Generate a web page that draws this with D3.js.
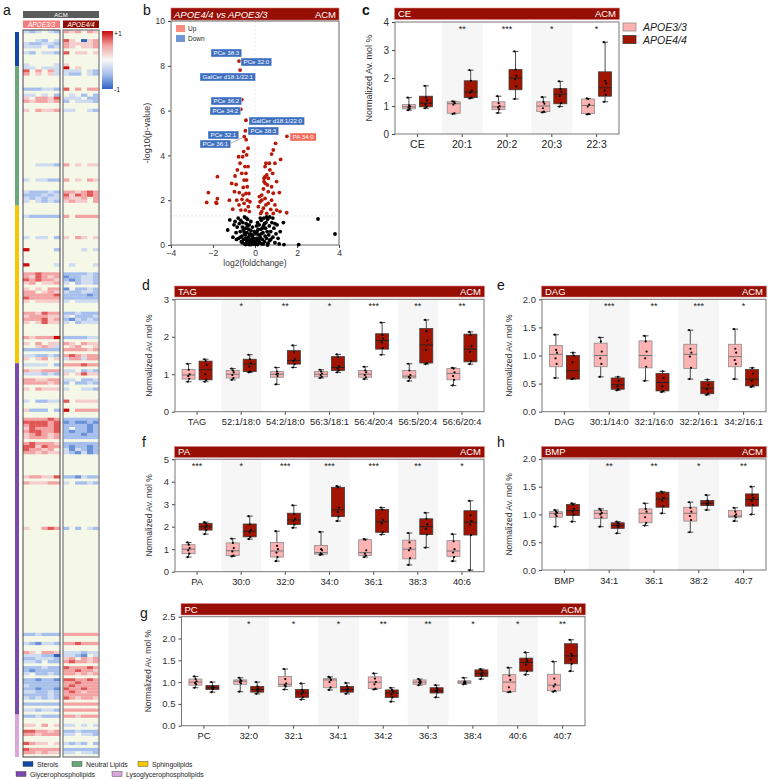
<!DOCTYPE html>
<html><head><meta charset="utf-8">
<script src="https://cdn.jsdelivr.net/npm/d3@7"></script>
<style>body{margin:0;background:#fff}svg{display:block;font-family:"Liberation Sans",Arial,sans-serif}</style>
</head><body>
<svg id="chart" width="768" height="779"></svg>
<script>
// ---------------- DATA ----------------
// Heatmap (panel a)
const hmGroups = ["Sterols","Neutral Lipids","Sphingolipids","Glycerophospholipids","Lysoglycerophospholipids"];
const hmGroupSizes = [12,46,52,116,14];
const hmNRows = 240;
// row index, APOE3/3 six samples, APOE4/4 six samples (a-d = -0.25..-1, A-D = +0.25..+1, . = 0)
const hmRows = [
[0,"aba.ab","BAB.BA"],[3,"..ab.a","CA.dAB"],[4,"abbaab","BAAAAB"],[5,"aaa.ba","BA.AAB"],[7,"ab.aab","C.AA.A"],
[11,"a....a","A....."],[12,"aa.aaa","D.A..."],[13,"C.B.Ba","aaa.ab"],[14,"B.A.Aa","abb.ab"],[19,"bbbaab","C.B.BB"],
[21,"aa.a.b",".a.b.b"],[22,"A.BBAC","aaa.bb"],[23,"BABBAB","b.aaab"],[26,"A.BAAB","aa..ab"],[44,"..aaab","B.A.AA"],
[49,"a.aabb","B.A.BA"],[53,"abbbab","BBABCB"],[54,"bbbaba","CACBCB"],[55,"ababaa","BAAB.B"],[56,"a.abab","ABAA.B"],
[61,"abbbbb","B.BBBB"],[68,"a.aa.b","A.BA.A"],[72,"D....b","...a.a"],[77,"D....a",".a...a"],[80,"BBCBBB","bbbbab"],
[81,"BACBAB","cbbaab"],[82,"CBCBBA","bcbaab"],[83,"AB.AAB","a.baab"],[85,"A.A.BB","c.bbab"],[86,"BB.ABA","abbaab"],
[87,"BBBBBC","bbbbcb"],[88,"CBBBBB","bbbbbb"],[89,"A.AAAA","a.aaaa"],[93,"BBACBB","bbabbb"],[94,"ABBBAA","a.bbba"],
[95,"BBBCAB","bcabab"],[96,"A.ACAA","a.baaa"],[101,"BABBBD","bbbbaa"],[103,"A.B.AA","BA.BAA"],[104,"..ABAa",".AB..A"],
[105,"bbbbbb","BBBBAB"],[107,"aabbab","BCBABB"],[108,"A.AB.A","aBBaBB"],[110,"aaaa.b","BBBCBB"],[112,"BAABBB","aa.bab"],
[113,"aaabab","A.ACAA"],[115,"BBAABB","aa.bba"],[116,"BBBBAB","b.bbab"],[118,"A.BAAA","a..aab"],[122,"a.bbaa","C.AAAA"],
[125,"Abbb.b","D.BBBB"],[128,"BBBBCB","bbbbbb"],[129,"CCCCBC","cbccbc"],[130,"BCCCBC","bbbbcb"],[131,"ACBBBC","b.bbcb"],
[132,"BCCBBC","bcbbcb"],[133,"ABCBAB","bbbcbb"],[134,"ABBBAB","bbbbbb"],[136,"BCBBBA","bbbbbb"],[137,"CCACBB","bcbbcb"],
[138,"CBBAB.","acabcb"],[139,"BBABAA","abcacb"],[147,"ABBAAC","bbcabb"],[149,"BAAABB","a.bbab"],[164,"A..BCB","b.b.ab"],
[199,"bbabbb","BBBBBB"],[202,"abcaab","BBCBBB"],[205,"BA.BBA","aaabaa"],[206,"aaabbd","aabc.a"],[207,"bbaaab","AB.BAB"],
[208,"aab.bb","BCBBAB"],[210,"bbbabb","CBBBCB"],[211,"bcbbbb","BBCBBA"],[212,"a.bbab","BBABAB"],[214,"bbcbbc","CCBBCB"],
[215,"bbbbbb","BBCBBB"],[216,"abbbbb","BCBBBB"],[217,"bbcbbc","CBBCBB"],[218,"aabbab","BCBABB"],[219,"bbbbab","BBBBBB"],
[220,"ababab","CBABBA"],[222,"bbbbbb","BBBBBB"],[224,"aabaab","BBBBBB"],[226,"bbabbb","BBABBB"],[229,"AA.B.A","aa.a.a"],
[231,"CCBBAB","bbabbb"],[232,"BBABBB","aa.aab"],[235,"CBAA.A","abab.b"],[237,"CBBBBB","bbbbbb"],[238,"BBABAA","aa.aab"]
];

// Volcano (panel b): [log2 fold change, -log10 p]
const volcSig = [
[-2.3,1.9],[-2.22,2.34],[-1.85,1.9],[-1.79,2.07],[-1.79,3.05],[-1.83,1.86],[-1.22,2.0],[-1.06,1.6],[-0.95,3.08],[-0.9,2.7],
[-0.84,3.35],[-0.71,3.65],[-0.75,2.34],[-0.76,1.79],[-0.67,1.56],[-0.62,2.04],[-0.56,2.57],[-0.52,2.9],[-0.48,3.5],[-0.43,3.2],
[-0.4,2.9],[-0.37,2.6],[-0.43,2.3],[-0.37,2.0],[-0.32,1.71],[-0.27,1.49],[-0.46,1.56],[-0.52,1.86],[-0.57,2.23],[-0.59,3.94],
[-0.4,4.02],[-0.33,4.32],[-0.78,3.94],[-0.98,2.38],[-0.87,2.0],[-1.11,2.75],[-0.63,3.2],[-0.54,4.17],[-0.33,3.5],[-0.29,2.3],
[-0.24,1.93],[-0.76,8.21],[-0.71,7.81],[-0.63,6.49],[-0.68,6.06],[-0.43,5.57],[-0.46,5.1],[-0.51,4.84],[-0.42,4.7],
[0.98,4.54],[0.87,4.24],[0.79,4.06],[1.22,3.82],[0.52,3.65],[0.48,3.5],[0.95,3.65],[0.71,3.35],[0.56,3.13],[0.43,2.98],
[0.63,2.98],[0.49,2.75],[0.79,2.6],[0.4,2.5],[0.63,2.38],[0.32,2.23],[0.87,2.31],[1.16,2.34],[0.48,2.08],[0.79,2.0],
[0.24,1.93],[0.63,1.86],[0.95,1.79],[0.4,1.64],[0.75,1.59],[0.32,1.49],[0.56,1.41],[1.03,1.56],[1.19,1.49],[1.51,1.44],
[0.16,1.71],[0.27,1.41],[0.48,3.05],[0.68,3.65],[0.84,3.2],[0.43,2.83],[0.59,2.68],[1.03,2.83],[0.32,2.0],[0.87,1.41],
[0.52,1.79],[0.21,2.16],[1.52,4.85]
];
const volcNs = [
[-1.2,1.12],[-1.3,0.67],[-1.0,0.9],[-0.95,1.05],[-0.9,0.55],[-0.85,0.8],[-0.8,1.2],[-0.78,0.3],[-0.75,0.95],[-0.7,0.6],
[-0.68,1.1],[-0.65,0.15],[-0.62,0.4],[-0.6,0.8],[-0.58,1.0],[-0.55,0.25],[-0.52,0.6],[-0.5,1.25],[-0.48,0.05],[-0.46,0.45],
[-0.44,0.75],[-0.42,0.95],[-0.4,0.2],[-0.38,0.55],[-0.36,1.15],[-0.34,0.1],[-0.32,0.35],[-0.3,0.7],[-0.28,0.9],[-0.26,0.05],
[-0.24,0.25],[-0.22,0.5],[-0.2,1.05],[-0.18,0.02],[-0.16,0.15],[-0.14,0.4],[-0.12,0.8],[-0.1,0.08],[-0.08,0.3],[-0.06,0.12],
[-0.04,0.6],[-0.02,0.03],[-0.5,0.5],[-0.45,0.3],[-0.55,0.7],[-0.35,0.85],[-0.25,0.45],[-0.15,0.22],[-0.42,1.2],[-0.6,0.1],
[-0.7,0.35],[-0.3,0.15],[-0.2,0.65],[-0.1,0.45],[-0.05,0.2],[-0.88,0.25],[-1.05,0.35],[-0.45,0.02],[-0.35,0.05],[-0.28,0.02],
[0.02,0.05],[0.05,0.15],[0.08,0.3],[0.1,0.6],[0.12,0.02],[0.15,0.2],[0.18,0.45],[0.2,0.9],[0.22,0.1],[0.25,0.35],
[0.28,0.7],[0.3,1.1],[0.32,0.05],[0.35,0.25],[0.38,0.55],[0.4,0.85],[0.42,1.2],[0.45,0.15],[0.48,0.4],[0.5,0.75],
[0.52,1.0],[0.55,0.3],[0.58,0.6],[0.6,1.15],[0.62,0.08],[0.65,0.45],[0.68,0.85],[0.7,0.2],[0.75,0.6],[0.8,1.0],
[0.85,0.35],[0.9,0.75],[0.95,0.1],[1.0,0.5],[1.05,0.9],[1.1,0.3],[1.2,0.6],[1.35,1.0],[0.55,1.25],[0.3,0.5],
[0.15,0.7],[0.7,1.25],[0.45,0.95],[0.25,1.2],[0.6,0.0],[0.35,0.75],[0.85,1.2],[1.38,0.02],[2.08,0.02],[3.0,1.16],
[3.81,0.49],[0.12,1.0],[0.2,0.25],[0.4,0.05],[0.75,0.25],[0.95,0.95],[1.15,0.05],[0.05,0.5],[0.08,0.85]
];
const volcLabels = ["PCe 38:3","PCe 32:0","GalCer d18:1/22:1","PCe 36:2","PCe 34:2","GalCer d18:1/22:0","PCe 38:3","PCe 32:1","PCe 36:1","PA 34:0"];
const volcLabelDir = ["Down","Down","Down","Down","Down","Down","Down","Down","Down","Up"];
const volcXTicks = [-4,-2,0,2,4];
const volcYTicks = [0,2,4,6,8,10];
const pThreshold = 1.3;

// Panel c: CE
const cCats = ["CE","20:1","20:2","20:3","22:3"];
const cSig = ["","**","***","*","*"];
const cTicks = [0,1,2,3,4];
const cE33 = [[0.85,0.9,0.97,1.05,1.3],[0.72,0.74,1.08,1.15,1.17],[0.75,0.87,0.97,1.15,1.35],[0.77,0.8,1.0,1.15,1.32],[0.7,0.73,1.02,1.25,1.27]];
const cE44 = [[0.92,0.97,1.1,1.35,1.72],[1.27,1.3,1.5,1.9,2.28],[1.25,1.58,2.0,2.3,2.95],[0.98,1.08,1.42,1.62,1.88],[1.15,1.35,1.65,2.22,3.28]];
const cE33pts = [[0.85,0.9,0.95,0.98,1.02,1.3],[0.72,0.74,1.05,1.1,1.15,1.17],[0.75,0.88,0.95,1.0,1.1,1.35],[0.77,0.8,0.92,1.08,1.15,1.32],[0.7,0.72,0.98,1.05,1.25,1.27]];
const cE44pts = [[0.92,0.97,1.05,1.2,1.3,1.72],[1.27,1.3,1.48,1.55,1.9,2.28],[1.25,1.7,1.95,2.08,2.3,2.95],[0.98,1.1,1.35,1.5,1.6,1.88],[1.15,1.4,1.55,1.8,1.9,3.28]];

// Panel d: TAG
const dCats = ["TAG","52:1/18:0","54:2/18:0","56:3/18:1","56:4/20:4","56:5/20:4","56:6/20:4"];
const dSig = ["","*","**","*","***","**","**"];
const dTicks = [0,1,2,3];
const dE33 = [[0.8,0.87,0.98,1.13,1.28],[0.85,0.9,1.0,1.1,1.15],[0.73,0.92,1.0,1.07,1.18],[0.9,0.93,1.0,1.07,1.12],[0.87,0.92,1.0,1.1,1.2],[0.82,0.9,0.95,1.1,1.28],[0.7,0.85,1.02,1.15,1.17]];
const dE44 = [[0.8,0.85,1.12,1.35,1.4],[1.05,1.07,1.27,1.4,1.52],[1.18,1.27,1.37,1.63,1.77],[1.05,1.1,1.18,1.47,1.53],[1.52,1.67,1.9,2.08,2.38],[1.27,1.3,1.78,2.22,2.45],[1.27,1.33,1.67,2.07,2.13]];
const dE33pts = [[0.8,0.88,0.95,1.0,1.12,1.28],[0.85,0.9,0.98,1.05,1.1,1.15],[0.73,0.95,1.0,1.02,1.07,1.18],[0.9,0.93,0.98,1.02,1.07,1.12],[0.87,0.92,0.98,1.05,1.1,1.2],[0.82,0.9,0.93,0.98,1.1,1.28],[0.7,0.85,0.95,1.05,1.15,1.17]];
const dE44pts = [[0.8,0.85,1.0,1.25,1.35,1.4],[1.05,1.07,1.2,1.3,1.4,1.52],[1.18,1.27,1.35,1.4,1.6,1.77],[1.05,1.1,1.15,1.22,1.45,1.53],[1.52,1.7,1.85,1.95,2.05,2.38],[1.27,1.3,1.65,1.9,2.15,2.45],[1.27,1.35,1.6,1.75,2.05,2.13]];

// Panel e: DAG
const eCats = ["DAG","30:1/14:0","32:1/16:0","32:2/16:1","34:2/16:1"];
const eSig = ["","***","**","***","*"];
const eTicks = [0,0.5,1,1.5,2];
const eE33 = [[0.6,0.8,1.02,1.18,1.37],[0.62,0.8,1.0,1.22,1.32],[0.55,0.78,1.0,1.26,1.35],[0.58,0.77,1.02,1.2,1.45],[0.58,0.8,0.98,1.2,1.47]];
const eE44 = [[0.58,0.58,0.73,1.0,1.05],[0.38,0.4,0.48,0.6,0.62],[0.35,0.37,0.52,0.68,0.72],[0.3,0.32,0.42,0.54,0.57],[0.44,0.46,0.58,0.75,0.78]];
const eE33pts = [[0.6,0.85,0.95,1.05,1.1,1.37],[0.62,0.85,0.95,1.07,1.25,1.32],[0.55,0.8,0.95,1.07,1.25,1.35],[0.58,0.78,0.98,1.05,1.12,1.45],[0.58,0.85,0.92,1.05,1.12,1.47]];
const eE44pts = [[0.58,0.6,0.88,1.0,1.05],[0.38,0.4,0.45,0.55,0.62],[0.35,0.37,0.45,0.6,0.72],[0.3,0.32,0.4,0.48,0.57],[0.44,0.46,0.55,0.68,0.78]];

// Panel f: PA
const fCats = ["PA","30:0","32:0","34:0","36:1","38:3","40:6"];
const fSig = ["***","*","***","***","***","**","*"];
const fTicks = [0,1,2,3,4,5];
const fE33 = [[0.65,0.8,1.0,1.2,1.3],[0.68,0.72,0.93,1.28,1.47],[0.47,0.65,0.92,1.3,1.8],[0.75,0.78,0.85,1.17,1.77],[0.65,0.72,0.85,1.42,1.45],[0.3,0.57,1.0,1.4,1.72],[0.47,0.68,0.92,1.38,1.67]];
const fE44 = [[1.67,1.85,2.0,2.15,2.2],[1.45,1.55,1.8,2.12,2.47],[1.95,2.1,2.3,2.6,2.95],[2.25,2.45,2.75,3.75,3.8],[1.65,1.75,2.22,2.77,2.85],[1.07,1.65,2.0,2.35,2.62],[0.07,1.63,2.2,2.71,3.15]];
const fE33pts = [[0.65,0.8,0.95,1.05,1.2,1.3],[0.68,0.72,0.9,1.05,1.28,1.47],[0.47,0.65,0.85,1.0,1.15,1.8],[0.75,0.78,0.82,0.95,1.0,1.77],[0.65,0.72,0.8,0.95,1.42,1.45],[0.3,0.6,0.95,1.05,1.3,1.72],[0.47,0.65,0.85,1.0,1.35,1.67]];
const fE44pts = [[1.67,1.85,1.95,2.05,2.15,2.2],[1.45,1.55,1.75,1.85,2.1,2.47],[1.95,2.1,2.25,2.35,2.55,2.95],[2.25,2.45,2.65,2.85,3.75,3.8],[1.65,1.75,2.15,2.3,2.75,2.85],[1.07,1.65,1.9,2.1,2.35,2.62],[0.07,1.63,2.1,2.25,2.5,3.15]];

// Panel h: BMP
const hCats = ["BMP","34:1","36:1","38:2","40:7"];
const hSig = ["","**","**","*","**"];
const hTicks = [0,0.5,1,1.5,2];
const hE33 = [[0.78,0.95,1.02,1.05,1.08],[0.78,0.93,1.02,1.07,1.1],[0.8,0.85,1.02,1.1,1.2],[0.68,0.88,1.02,1.13,1.22],[0.88,0.95,0.97,1.07,1.12]];
const hE44 = [[0.87,0.98,1.07,1.18,1.2],[0.66,0.75,0.8,0.85,0.87],[1.02,1.13,1.28,1.4,1.41],[1.08,1.16,1.2,1.25,1.35],[1.0,1.15,1.27,1.37,1.5]];
const hE33pts = [[0.78,0.97,1.0,1.03,1.05,1.08],[0.78,0.95,1.0,1.03,1.07,1.1],[0.8,0.85,0.95,1.05,1.1,1.2],[0.68,0.9,0.97,1.05,1.12,1.22],[0.88,0.95,0.97,1.0,1.05,1.12]];
const hE44pts = [[0.87,1.0,1.05,1.1,1.18,1.2],[0.66,0.77,0.8,0.83,0.85,0.87],[1.02,1.15,1.25,1.3,1.38,1.41],[1.08,1.17,1.19,1.22,1.25,1.35],[1.0,1.17,1.25,1.3,1.35,1.5]];

// Panel g: PC
const gCats = ["PC","32:0","32:1","34:1","34:2","36:3","38:4","40:6","40:7"];
const gSig = ["","*","*","*","**","**","*","*","**"];
const gTicks = [0,0.5,1,1.5,2,2.5];
const gE33 = [[0.87,0.93,1.0,1.07,1.13],[0.78,0.95,1.02,1.05,1.1],[0.83,0.9,0.95,1.13,1.3],[0.82,0.87,1.05,1.08,1.12],[0.83,0.85,1.0,1.12,1.2],[0.93,0.95,1.0,1.05,1.07],[0.95,0.97,1.0,1.03,1.1],[0.77,0.78,1.0,1.17,1.33],[0.78,0.8,0.93,1.18,1.47]];
const gE44 = [[0.77,0.83,0.87,0.92,1.0],[0.73,0.77,0.83,0.9,1.0],[0.6,0.65,0.75,0.83,0.97],[0.73,0.77,0.83,0.9,0.98],[0.55,0.65,0.75,0.82,0.87],[0.65,0.75,0.8,0.87,0.93],[1.07,1.13,1.2,1.28,1.3],[1.17,1.25,1.45,1.55,1.68],[1.25,1.42,1.6,1.88,1.97]];
const gE33pts = [[0.87,0.95,0.98,1.02,1.07,1.13],[0.78,0.97,1.0,1.03,1.05,1.1],[0.83,0.9,0.93,0.97,1.07,1.3],[0.82,0.88,1.0,1.05,1.1,1.12],[0.83,0.85,0.95,1.0,1.08,1.2],[0.93,0.97,0.99,1.01,1.04,1.07],[0.95,0.97,0.99,1.0,1.02,1.1],[0.77,0.78,0.88,1.05,1.15,1.33],[0.78,0.8,0.9,0.95,1.08,1.47]];
const gE44pts = [[0.77,0.84,0.86,0.88,0.9,1.0],[0.73,0.78,0.82,0.85,0.9,1.0],[0.6,0.65,0.72,0.78,0.82,0.97],[0.73,0.78,0.82,0.85,0.9,0.98],[0.55,0.65,0.72,0.78,0.82,0.87],[0.65,0.77,0.8,0.83,0.86,0.93],[1.07,1.15,1.18,1.22,1.27,1.3],[1.17,1.25,1.4,1.48,1.53,1.68],[1.25,1.42,1.52,1.6,1.65,1.97]];

const genotypes = ["APOE3/3","APOE4/4"];

// ---------------- STYLE ----------------
const BAR = "#970f04";
const PINK = "#ffb2b2", PINK_STROKE = "#8c8c8c";
const DRED = "#a31400", DRED_STROKE = "#3a3a3a";
const svg = d3.select("#chart");

// ---------------- PANEL LETTERS ----------------
[["a",3,15],["b",143,15],["c",362,15],["d",142,290],["e",497,290],["f",142,447],["h",497,447],["g",140,618]].forEach(([t,x,y])=>{
  svg.append("text").attr("x",x).attr("y",y).text(t).attr("font-size",14).attr("fill","#111").attr("font-weight", t==="c"?"bold":"normal");
});

// ---------------- HEATMAP (a) ----------------
(function(){
  const top = 30, bot = 757;
  const rowScale = d3.scaleBand().domain(d3.range(hmNRows)).range([top,bot]);
  const cols = [[23,60],[63,99]];
  const colScales = cols.map(c=>d3.scaleBand().domain(d3.range(6)).range(c));
  const color = d3.scaleLinear().domain([-1,-0.5,0,0.5,1]).range(["#2e63c2","#a6bfec","#f7f7f5","#f3a3a3","#cc0a0a"]);
  const code = ch => ch==="." ? null : (ch === ch.toLowerCase() ? -1 : 1) * ("abcd".indexOf(ch.toLowerCase())+1)/4;
  const g = svg.append("g");
  g.append("rect").attr("x",23).attr("y",11).attr("width",76).attr("height",7).attr("fill","#5b5b5b");
  g.append("text").attr("x",61).attr("y",17).attr("text-anchor","middle").attr("fill","#fff").attr("font-size",6).text("ACM");
  const hdrFill = ["#f27d7d","#8e0d02"];
  cols.forEach((c,i)=>{
    g.append("rect").attr("x",c[0]).attr("y",20.5).attr("width",c[1]-c[0]).attr("height",7.5).attr("fill",hdrFill[i]);
    g.append("text").attr("x",(c[0]+c[1])/2).attr("y",26.6).attr("text-anchor","middle").attr("fill","#fff").attr("font-size",6.5).attr("font-style","italic").text(genotypes[i]);
    g.append("rect").attr("x",c[0]).attr("y",top).attr("width",c[1]-c[0]).attr("height",bot-top).attr("fill","#f5f8e6");
  });
  hmRows.forEach(([r,s1,s2])=>{
    [s1,s2].forEach((s,ci)=>{
      s.split("").forEach((ch,k)=>{
        const v = code(ch); if(v===null) return;
        g.append("rect").attr("x",colScales[ci](k)).attr("y",rowScale(r)).attr("width",colScales[ci].bandwidth()+0.3).attr("height",rowScale.bandwidth()+0.2).attr("fill",color(v));
      });
    });
  });
  cols.forEach((c,i)=>{
    g.append("rect").attr("x",c[0]).attr("y",top).attr("width",c[1]-c[0]).attr("height",bot-top).attr("fill","none").attr("stroke",i?"#8a8a8a":"#444").attr("stroke-width",i?1.4:1);
  });
  const groupColors = ["#1246a8","#6aa879","#f7c800","#7a48ae","#dba6dc"];
  let acc = 0;
  hmGroupSizes.forEach((n,i)=>{
    const y0 = rowScale(acc), y1 = rowScale(acc+n-1)+rowScale.bandwidth();
    g.append("rect").attr("x",15).attr("y",y0+(i===0?2:0)).attr("width",4).attr("height",y1-y0-(i===0?2:0)).attr("fill",groupColors[i]);
    acc += n;
  });
  const defs = svg.append("defs");
  const lg = defs.append("linearGradient").attr("id","hmgrad").attr("x1",0).attr("x2",0).attr("y1",0).attr("y2",1);
  [1,0.5,0.25,0,-0.25,-0.5,-1].forEach(v=>{
    lg.append("stop").attr("offset",(1-v)/2).attr("stop-color",color(v));
  });
  g.append("rect").attr("x",102).attr("y",31).attr("width",11).attr("height",58).attr("fill","url(#hmgrad)");
  g.append("text").attr("x",114).attr("y",36).attr("font-size",7).attr("fill","#222").text("+1");
  g.append("text").attr("x",114).attr("y",92).attr("font-size",7).attr("fill","#222").text("-1");
  const legPos = [[23,765],[72,765],[138,765],[16,775],[112,775]];
  hmGroups.forEach((name,i)=>{
    const [x,y] = legPos[i];
    g.append("rect").attr("x",x).attr("y",y-3.5).attr("width",10).attr("height",5).attr("fill",groupColors[i]).attr("stroke","#333").attr("stroke-width",0.4);
    g.append("text").attr("x",x+14).attr("y",y+1.8).attr("font-size",6.8).attr("fill","#222").text(name);
  });
})();

// ---------------- VOLCANO (b) ----------------
(function(){
  const x0=171,x1=339,y0=21,y1=245;
  const x = d3.scaleLinear().domain([-4,4]).range([x0,x1]);
  const y = d3.scaleLinear().domain([0,10]).range([y1,y0]);
  const g = svg.append("g");
  g.append("rect").attr("x",x0).attr("y",8).attr("width",x1-x0).attr("height",12).attr("fill",BAR).attr("stroke","#d77").attr("stroke-width",0.6);
  g.append("text").attr("x",x0+3).attr("y",17.6).attr("fill","#fff").attr("font-size",9.5).attr("font-style","italic").text(genotypes[1]+" vs "+genotypes[0]);
  g.append("text").attr("x",x1-3).attr("y",17.6).attr("text-anchor","end").attr("fill","#fff").attr("font-size",9.5).text("ACM");
  g.append("line").attr("x1",x(0)).attr("x2",x(0)).attr("y1",y0).attr("y2",y1).attr("stroke","#ddd").attr("stroke-dasharray","2,2").attr("stroke-width",0.7);
  g.append("line").attr("x1",x0).attr("x2",x1).attr("y1",y(pThreshold)).attr("y2",y(pThreshold)).attr("stroke","#ddd").attr("stroke-dasharray","2,2").attr("stroke-width",0.7);
  const ya = g.append("g").attr("transform",`translate(${x0},0)`).call(d3.axisLeft(y).tickValues(volcYTicks).tickSize(3));
  const xa = g.append("g").attr("transform",`translate(0,${y1})`).call(d3.axisBottom(x).tickValues(volcXTicks).tickSize(3).tickPadding(2));
  [ya,xa].forEach(a=>{a.select(".domain").remove();a.selectAll("text").attr("font-size",8.5).attr("fill","#333");a.selectAll("line").attr("stroke","#444");});
  g.append("rect").attr("x",x0).attr("y",y0).attr("width",x1-x0).attr("height",y1-y0).attr("fill","none").attr("stroke","#666");
  g.append("text").attr("transform",`translate(150,${(y0+y1)/2}) rotate(-90)`).attr("text-anchor","middle").attr("font-size",9).attr("fill","#333").text("-log10(p-value)");
  g.append("text").attr("x",(x0+x1)/2).attr("y",266).attr("text-anchor","middle").attr("font-size",8.5).attr("fill","#333").text("log2(foldchange)");
  const legC = {Up:"#fa8c7c",Down:"#6f97d6"};
  ["Up","Down"].forEach((k,i)=>{
    g.append("rect").attr("x",176).attr("y",25+i*10).attr("width",9).attr("height",7).attr("fill",legC[k]);
    g.append("text").attr("x",188).attr("y",31+i*10).attr("font-size",6.5).attr("fill","#222").text(k);
  });
  g.selectAll("circle.ns").data(volcNs).join("circle").attr("cx",d=>x(d[0])).attr("cy",d=>y(d[1])).attr("r",1.9).attr("fill","#000");
  g.selectAll("circle.sig").data(volcSig).join("circle").attr("cx",d=>x(d[0])).attr("cy",d=>y(d[1])).attr("r",1.9).attr("fill","#b81a0a");
  const labelPos = [[211,49],[241,58],[200,73],[211,97],[210,107],[249,117],[248,127],[208,131],[200,140],[290,133]];
  const boxC = {Down:"#3d6fc0",Up:"#f26a5a"};
  g.append("line").attr("x1",229).attr("y1",144).attr("x2",244).attr("y2",137).attr("stroke","#777").attr("stroke-width",0.6);
  volcLabels.forEach((t,i)=>{
    const [lx,ly] = labelPos[i];
    const lab = g.append("g");
    const rect = lab.append("rect").attr("x",lx).attr("y",ly).attr("height",8).attr("fill",boxC[volcLabelDir[i]]).attr("stroke","#fff").attr("stroke-width",0.4);
    const txt = lab.append("text").attr("x",lx+2.5).attr("y",ly+6).attr("font-size",6.2).attr("fill","#fff").text(t);
    rect.attr("width",txt.node().getComputedTextLength()+5);
  });
})();

// ---------------- BOX PANELS ----------------
const jitter = [-1.5,1.2,-0.6,1.8,0.3,-1.9];
function boxPanel(o){
  const x = d3.scaleBand().domain(o.cats).range([o.x0,o.x1]);
  const y = d3.scaleLinear().domain([0,o.ymax]).range([o.y1,o.y0]);
  const bw = x.bandwidth();
  const g = svg.append("g");
  g.selectAll("rect.shade").data(o.cats.filter((c,i)=>i%2===1)).join("rect")
    .attr("x",c=>x(c)+2).attr("y",o.y0).attr("width",bw-4).attr("height",o.y1-o.y0).attr("fill","#f6f6f6");
  g.append("rect").attr("x",o.x0-0.5).attr("y",o.by0).attr("width",o.x1-o.x0+1).attr("height",o.by1-o.by0).attr("fill",BAR).attr("stroke","#d88").attr("stroke-width",0.6);
  const ty = (o.by0+o.by1)/2+3.4;
  g.append("text").attr("x",o.x0+3).attr("y",ty).attr("fill","#fff").attr("font-size",9.5).text(o.title);
  g.append("text").attr("x",o.x1-3).attr("y",ty).attr("text-anchor","end").attr("fill","#fff").attr("font-size",9.5).text("ACM");
  const ya = g.append("g").attr("transform",`translate(${o.x0},0)`).call(d3.axisLeft(y).tickValues(o.ticks).tickSize(3).tickFormat(o.fmt));
  const xa = g.append("g").attr("transform",`translate(0,${o.y1})`).call(d3.axisBottom(x).tickSize(3).tickPadding(4));
  ya.selectAll("text").attr("font-size",o.tfs).attr("fill","#333");
  xa.selectAll("text").attr("font-size",o.xfs).attr("fill","#222");
  [ya,xa].forEach(a=>{a.select(".domain").remove();a.selectAll("line").attr("stroke","#444");});
  g.append("rect").attr("x",o.x0).attr("y",o.y0).attr("width",o.x1-o.x0).attr("height",o.y1-o.y0).attr("fill","none").attr("stroke","#777");
  g.append("text").attr("transform",`translate(${o.ylx},${(o.y0+o.y1)/2}) rotate(-90)`).attr("text-anchor","middle").attr("font-size",o.ylfs).attr("fill","#333").text("Normalized Av. mol %");
  g.selectAll("text.sig").data(o.sig).join("text").attr("x",(d,i)=>x(o.cats[i])+bw/2).attr("y",o.y0+10).attr("text-anchor","middle").attr("font-size",9).attr("fill","#222").text(d=>d);
  const groups = [{st:o.e33,pts:o.e33p,off:-8.5,fill:PINK,stroke:PINK_STROKE,med:"#777"},{st:o.e44,pts:o.e44p,off:8.5,fill:DRED,stroke:DRED_STROKE,med:"#222"}];
  const w = 13;
  groups.forEach(gr=>{
    o.cats.forEach((c,i)=>{
      const s = gr.st[i], cx = x(c)+bw/2+gr.off;
      g.append("line").attr("x1",cx).attr("x2",cx).attr("y1",y(s[0])).attr("y2",y(s[4])).attr("stroke","#222").attr("stroke-width",0.8);
      [s[0],s[4]].forEach(v=>g.append("line").attr("x1",cx-3).attr("x2",cx+3).attr("y1",y(v)).attr("y2",y(v)).attr("stroke","#222").attr("stroke-width",0.8));
      g.append("rect").attr("x",cx-w/2).attr("y",y(s[3])).attr("width",w).attr("height",Math.max(0.5,y(s[1])-y(s[3]))).attr("fill",gr.fill).attr("stroke",gr.stroke).attr("stroke-width",0.8);
      g.append("line").attr("x1",cx-w/2).attr("x2",cx+w/2).attr("y1",y(s[2])).attr("y2",y(s[2])).attr("stroke",gr.med).attr("stroke-width",1);
      gr.pts[i].forEach((v,k)=>g.append("circle").attr("cx",cx+jitter[k%jitter.length]*0.6).attr("cy",y(v)).attr("r",1.1).attr("fill","#000"));
    });
  });
}
const f1 = d3.format(".1f"), f0 = d3.format("d");
boxPanel({cats:cCats,sig:cSig,ticks:cTicks,fmt:f0,ymax:4,e33:cE33,e44:cE44,e33p:cE33pts,e44p:cE44pts,title:"CE",
  x0:395,x1:619,y0:22,y1:134,by0:8,by1:19.5,ylx:372,tfs:10,xfs:10.5,ylfs:9});
boxPanel({cats:dCats,sig:dSig,ticks:dTicks,fmt:f0,ymax:3,e33:dE33,e44:dE44,e33p:dE33pts,e44p:dE44pts,title:"TAG",
  x0:175,x1:484,y0:299.3,y1:411.7,by0:286,by1:297,ylx:152,tfs:9.5,xfs:9.3,ylfs:8.5});
boxPanel({cats:eCats,sig:eSig,ticks:eTicks,fmt:f1,ymax:2,e33:eE33,e44:eE44,e33p:eE33pts,e44p:eE44pts,title:"DAG",
  x0:542,x1:766,y0:299.3,y1:411.7,by0:286,by1:297,ylx:512,tfs:9.5,xfs:9.3,ylfs:8.5});
boxPanel({cats:fCats,sig:fSig,ticks:fTicks,fmt:f0,ymax:5,e33:fE33,e44:fE44,e33p:fE33pts,e44p:fE44pts,title:"PA",
  x0:175,x1:484,y0:459.2,y1:571.7,by0:446.5,by1:457.5,ylx:152,tfs:9.5,xfs:9.3,ylfs:8.5});
boxPanel({cats:hCats,sig:hSig,ticks:hTicks,fmt:f1,ymax:2,e33:hE33,e44:hE44,e33p:hE33pts,e44p:hE44pts,title:"BMP",
  x0:542,x1:766,y0:458.9,y1:570,by0:446.5,by1:457.5,ylx:512,tfs:9.5,xfs:9.3,ylfs:8.5});
boxPanel({cats:gCats,sig:gSig,ticks:gTicks,fmt:f1,ymax:2.5,e33:gE33,e44:gE44,e33p:gE33pts,e44p:gE44pts,title:"PC",
  x0:181.5,x1:585,y0:616.7,y1:725.7,by0:603.5,by1:615,ylx:151,tfs:9.5,xfs:9.3,ylfs:8.5});

[[PINK,PINK_STROKE],[DRED,DRED_STROKE]].forEach(([f,s],i)=>{
  svg.append("rect").attr("x",623).attr("y",23+i*12.5).attr("width",13).attr("height",8).attr("fill",f).attr("stroke",s).attr("stroke-width",0.8);
  svg.append("text").attr("x",643).attr("y",31+i*12.5).attr("font-size",10.5).attr("font-style","italic").attr("fill","#222").text(genotypes[i]);
});
</script>
</body></html>
